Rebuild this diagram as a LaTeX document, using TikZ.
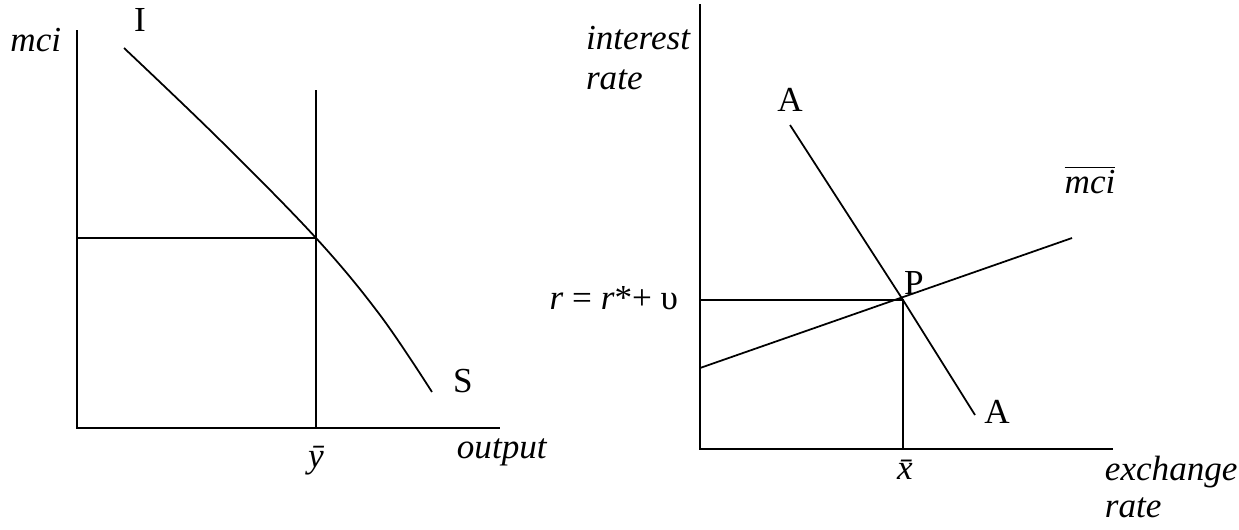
\documentclass[tikz,border=0pt]{standalone}
\usepackage{fontspec}
\setmainfont{Liberation Serif}
\usepackage{tikz}
\usetikzlibrary{positioning, calc}

\begin{document}
\begin{tikzpicture}[x=0.02cm, y=-0.02cm, line width=1pt,
    font=\fontsize{20}{23}\selectfont,
    lbl/.style={inner sep=0pt, font=\fontsize{20}{23}\selectfont\itshape}]
  \useasboundingbox (0,0) rectangle (1239,529);
  % left panel: goods market
  \coordinate (lo) at (77,428);
  \coordinate (E) at (316,238);
  \draw (77,30) -- (lo) -- (500,428);
  \draw (316,90) -- (316,428);
  \draw (77,238) -- (E);
  \draw plot[smooth, tension=0.6] coordinates {(124,48) (220,140) (E) (380,315) (432,392)};
  \node[lbl, anchor=east] (mci) at (62,40) {mci};
  \node[inner sep=0pt] (I) at (140,20) {I};
  \node[inner sep=0pt] (S) at (463,381) {S};
  \node[lbl] (ybar) at (316,461) {\=y};
  \node[lbl, anchor=west] (out) at (456,452) {output};
  % right panel: interest rate vs exchange rate
  \coordinate (ro) at (700,449);
  \coordinate (P) at (903,300);
  \draw (700,4) -- (ro) -- (1113,449);
  \draw (790,125) -- (P) -- (975,415);
  \draw (700,368) -- (1072,238);
  \draw (700,300) -- (P) -- (903,449);
  \node[lbl, anchor=east, align=left] (ir) at (691,58) {interest\\rate};
  \node[inner sep=0pt] (A1) at (790,100) {A};
  \node[inner sep=0pt] (A2) at (997,412) {A};
  \node[inner sep=0pt] (Pl) at (914,283) {P};
  \node[inner sep=0pt] (mcib) at (1090,180) {$\overline{\mbox{\itshape mci}}$};
  \node[inner sep=0pt, anchor=east] (rl) at (679,298) {\textit{r} = \textit{r}*+ υ};
  \node[lbl] (xbar) at (905,470) {\=x};
  \node[lbl, anchor=west, align=left, font=\fontsize{20}{21}\selectfont\itshape] (ex) at (1104,487) {exchange\\rate};
\end{tikzpicture}
\end{document}
